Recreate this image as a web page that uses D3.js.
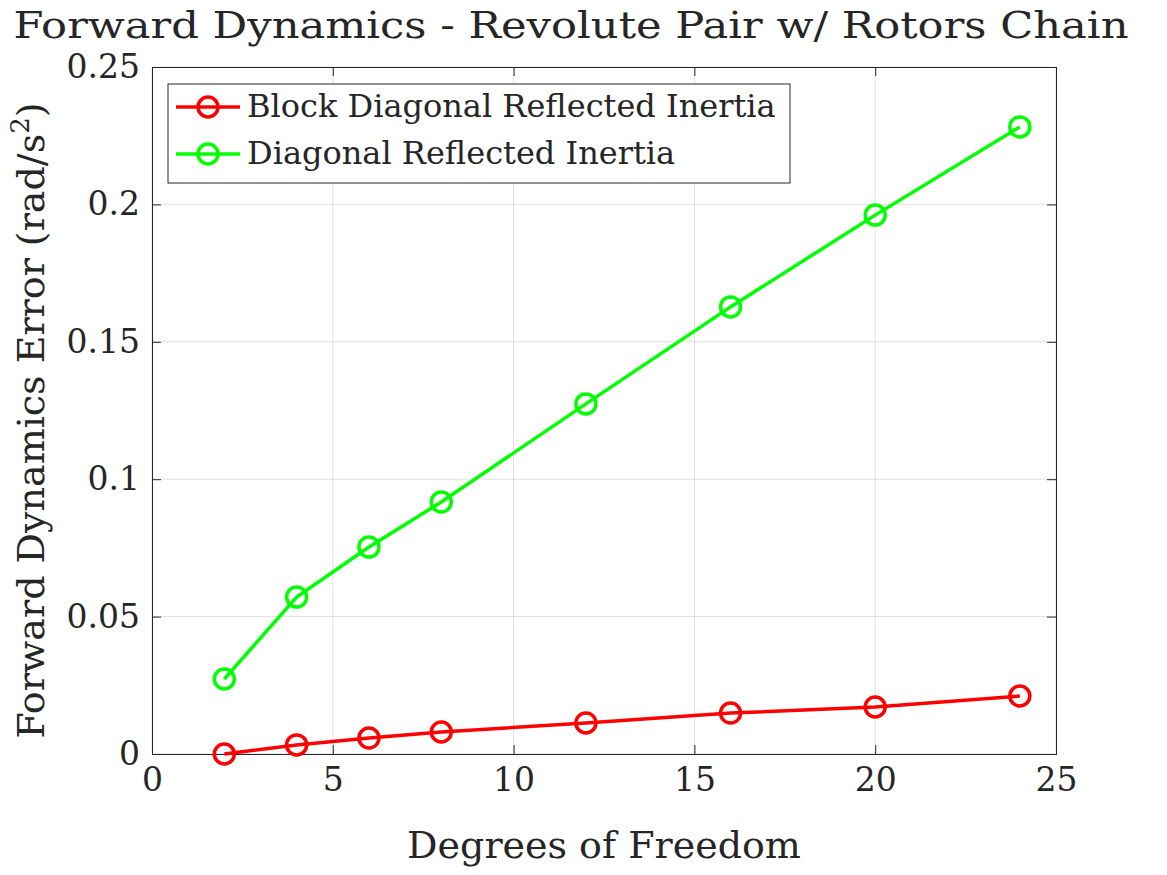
<!DOCTYPE html>
<html><head><meta charset="utf-8">
<script src="https://cdn.jsdelivr.net/npm/d3@7"></script>
<style>body{margin:0;background:#fff}text{font-family:"DejaVu Serif",serif;fill:#262626}</style>
</head><body><svg id="c" width="1167" height="875"></svg>
<script>
const dof = [2, 4, 6, 8, 12, 16, 20, 24];
const blockDiag = [0, 0.0033, 0.0058, 0.008, 0.0113, 0.0149, 0.0171, 0.0211];
const diag = [0.0273, 0.0571, 0.0753, 0.0917, 0.1274, 0.1627, 0.1961, 0.2282];
const xTicks = [0, 5, 10, 15, 20, 25];
const yTicks = [0, 0.05, 0.1, 0.15, 0.2, 0.25];
const series = [
  {name: "Block Diagonal Reflected Inertia", values: blockDiag, color: "#ff0000"},
  {name: "Diagonal Reflected Inertia", values: diag, color: "#00ff00"}
];

const svg = d3.select("#c");
const L = 152, R = 1056, T = 67, B = 754;
const x = d3.scaleLinear().domain([0, 25]).range([L, R]);
const y = d3.scaleLinear().domain([0, 0.25]).range([B, T]);

// grid
svg.append("g").selectAll("line").data(xTicks).join("line")
  .attr("x1", d => x(d)).attr("x2", d => x(d)).attr("y1", T).attr("y2", B)
  .attr("stroke", "#000").attr("stroke-opacity", 0.12);
svg.append("g").selectAll("line").data(yTicks).join("line")
  .attr("y1", d => y(d)).attr("y2", d => y(d)).attr("x1", L).attr("x2", R)
  .attr("stroke", "#000").attr("stroke-opacity", 0.12);

// axes with inward ticks
const fmt = d => d === 0 ? "0" : String(d);
const ax = [
  [d3.axisBottom(x).tickValues(xTicks).tickSize(-9).tickPadding(14).tickFormat(fmt), `translate(0,${B})`],
  [d3.axisTop(x).tickValues(xTicks).tickSize(-9).tickFormat(""), `translate(0,${T})`],
  [d3.axisLeft(y).tickValues(yTicks).tickSize(-9).tickPadding(12).tickFormat(fmt), `translate(${L},0)`],
  [d3.axisRight(y).tickValues(yTicks).tickSize(-9).tickFormat(""), `translate(${R},0)`]
];
ax.forEach(([a, t]) => {
  const g = svg.append("g").attr("transform", t).call(a);
  g.select(".domain").attr("stroke", "#262626").attr("stroke-width", 1);
  g.selectAll(".tick line").attr("stroke", "#262626");
  g.selectAll("text").attr("font-size", 33).attr("font-family", "DejaVu Serif").attr("fill", "#262626");
});

// lines + markers
const line = d3.line().x((d, i) => x(dof[i])).y(d => y(d));
series.forEach(s => {
  svg.append("path").datum(s.values).attr("d", line)
    .attr("fill", "none").attr("stroke", s.color).attr("stroke-width", 3.5);
  svg.append("g").selectAll("circle").data(s.values).join("circle")
    .attr("cx", (d, i) => x(dof[i])).attr("cy", d => y(d)).attr("r", 10)
    .attr("fill", "none").attr("stroke", s.color).attr("stroke-width", 3.5);
});

// title and labels
svg.append("text").attr("x", 571).attr("y", 38).attr("text-anchor", "middle")
  .attr("font-size", 38).attr("textLength", 1115).attr("lengthAdjust", "spacingAndGlyphs")
  .attr("fill", "#000").text("Forward Dynamics - Revolute Pair w/ Rotors Chain");
svg.append("text").attr("x", (L + R) / 2).attr("y", 858).attr("text-anchor", "middle")
  .attr("font-size", 38).text("Degrees of Freedom");
const yl = svg.append("text").attr("transform", `translate(44,${(T + B) / 2 + 10}) rotate(-90)`)
  .attr("text-anchor", "middle").attr("font-size", 38);
yl.append("tspan").text("Forward Dynamics Error (rad/s");
yl.append("tspan").attr("font-size", 26).attr("dy", -15).text("2");
yl.append("tspan").attr("dy", 15).text(")");

// legend
const lg = svg.append("g");
lg.append("rect").attr("x", 168).attr("y", 84).attr("width", 622).attr("height", 99)
  .attr("fill", "#fff").attr("stroke", "#262626").attr("stroke-width", 1);
series.forEach((s, i) => {
  const cy = 107 + i * 47;
  lg.append("line").attr("x1", 176).attr("x2", 240).attr("y1", cy).attr("y2", cy)
    .attr("stroke", s.color).attr("stroke-width", 3.5);
  lg.append("circle").attr("cx", 208).attr("cy", cy).attr("r", 10)
    .attr("fill", "none").attr("stroke", s.color).attr("stroke-width", 3.5);
  lg.append("text").attr("x", 247).attr("y", cy + 10).attr("font-size", 32).attr("fill", "#000").text(s.name);
});
</script></body></html>
